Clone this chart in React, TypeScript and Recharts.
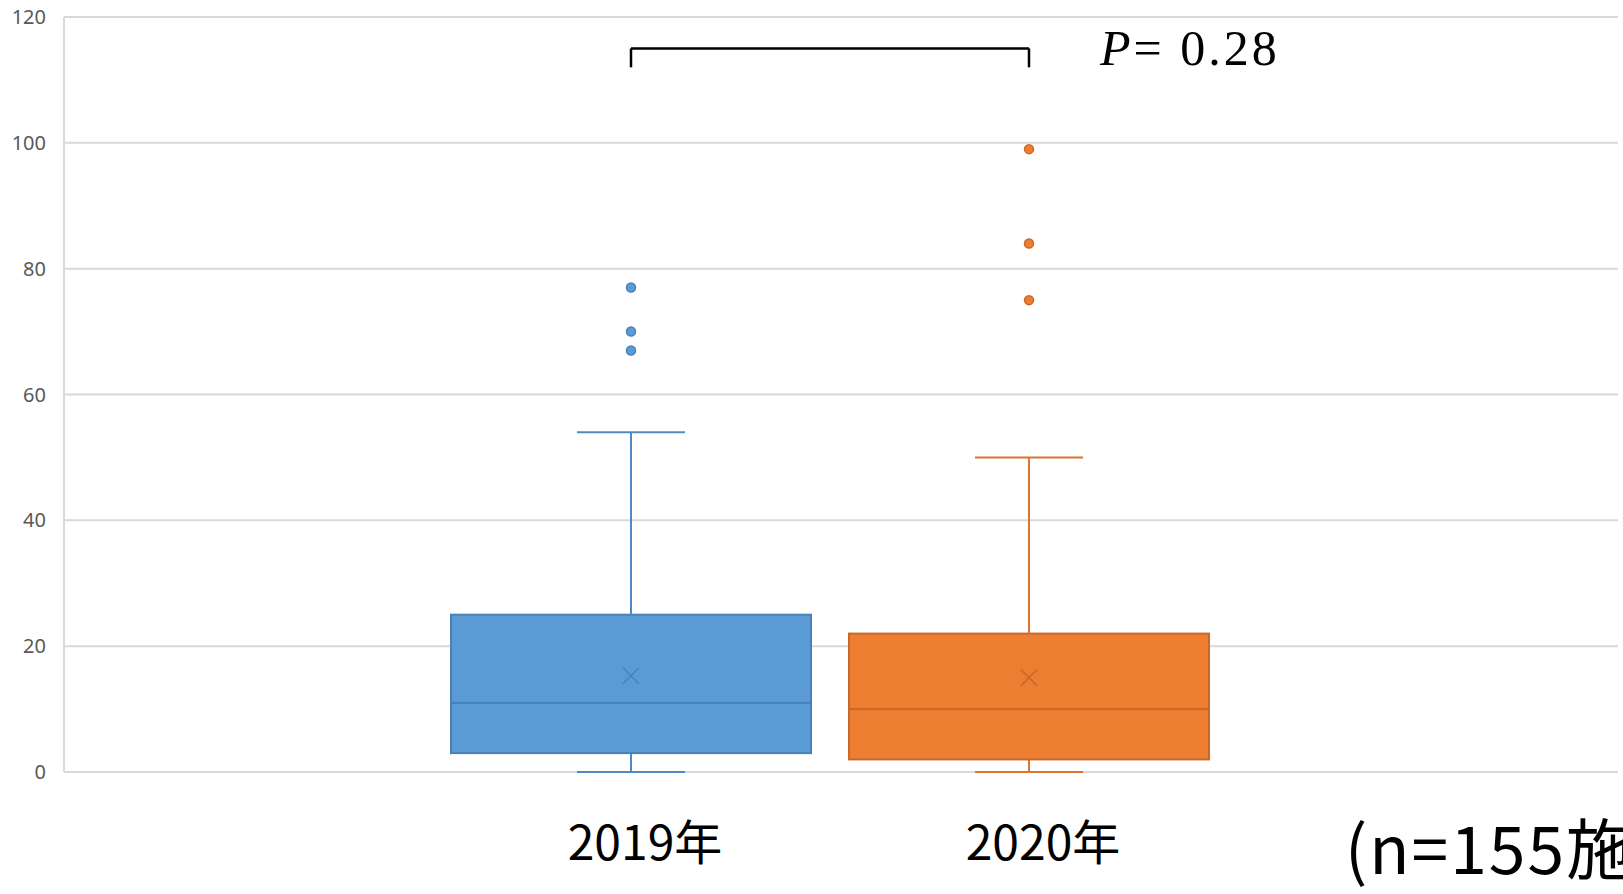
import React from "react";
import {
  ComposedChart,
  Bar,
  Scatter,
  XAxis,
  YAxis,
  CartesianGrid,
  ReferenceLine,
} from "recharts";

const categories = ["2019年", "2020年"];
const minValues = [0, 0];
const q1Values = [3, 2];
const medianValues = [11, 10];
const q3Values = [25, 22];
const maxValues = [54, 50];
const meanValues = [15.3, 15.0];
const outlierValues = [
  [67, 70, 77],
  [75, 84, 99],
];
const yTicks = [0, 20, 40, 60, 80, 100, 120];
const pLabel = "0.28";
const nLabel = "(n=155施設)";
const bracketTop = 115;
const bracketBottom = 112;

const palette: Record<string, { fill: string; stroke: string; line: string }> = {
  "2019年": { fill: "#5B9BD5", stroke: "#4A80B8", line: "#5089C4" },
  "2020年": { fill: "#ED7D31", stroke: "#C8692A", line: "#DB7434" },
};

const data = categories.map((name, i) => ({
  name,
  base: minValues[i],
  lowWhisker: q1Values[i] - minValues[i],
  lowBox: medianValues[i] - q1Values[i],
  highBox: q3Values[i] - medianValues[i],
  highWhisker: maxValues[i] - q3Values[i],
  mean: meanValues[i],
  out1: outlierValues[i][0],
  out2: outlierValues[i][1],
  out3: outlierValues[i][2],
}));

const CAP = 108;

const LowWhisker = (p: any) => {
  const c = palette[p.payload.name];
  const cx = p.x + p.width / 2;
  return (
    <g stroke={c.line} strokeWidth={2}>
      <line x1={cx} x2={cx} y1={p.y} y2={p.y + p.height} />
      <line x1={cx - CAP / 2} x2={cx + CAP / 2} y1={p.y + p.height} y2={p.y + p.height} />
    </g>
  );
};

const HighWhisker = (p: any) => {
  const c = palette[p.payload.name];
  const cx = p.x + p.width / 2;
  return (
    <g stroke={c.line} strokeWidth={2}>
      <line x1={cx} x2={cx} y1={p.y} y2={p.y + p.height} />
      <line x1={cx - CAP / 2} x2={cx + CAP / 2} y1={p.y} y2={p.y} />
    </g>
  );
};

const BoxPart = (p: any) => {
  const c = palette[p.payload.name];
  return (
    <rect
      x={p.x}
      y={p.y}
      width={p.width}
      height={p.height}
      fill={c.fill}
      stroke={c.stroke}
      strokeWidth={2}
    />
  );
};

const MeanMark = (p: any) => {
  const c = palette[p.payload.name];
  const s = 8;
  return (
    <g stroke={c.stroke} strokeWidth={1.5}>
      <line x1={p.cx - s} y1={p.cy - s} x2={p.cx + s} y2={p.cy + s} />
      <line x1={p.cx - s} y1={p.cy + s} x2={p.cx + s} y2={p.cy - s} />
    </g>
  );
};

const OutlierDot = (p: any) => {
  const c = palette[p.payload.name];
  return <circle cx={p.cx} cy={p.cy} r={4.5} fill={c.fill} stroke={c.stroke} strokeWidth={1.5} />;
};

const CategoryTick = (p: any) => (
  <text
    x={p.x + 14}
    y={p.y + 88}
    textAnchor="middle"
    fontSize={48}
    fontFamily="'Noto Sans CJK JP', sans-serif"
    fill="#000"
  >
    {p.payload.value}
  </text>
);

export default function App() {
  return (
    <div style={{ position: "relative", width: 1623, height: 894 }}>
      <style>{`body{margin:0;}`}</style>
      <ComposedChart
        width={1623}
        height={894}
        data={data}
        margin={{ top: 17, right: 5, left: 0, bottom: 0 }}
      >
        <CartesianGrid vertical={false} stroke="#d9d9d9" strokeWidth={2} />
        <XAxis
          dataKey="name"
          height={122}
          axisLine={false}
          tickLine={false}
          tickSize={0}
          tickMargin={0}
          padding={{ left: 368, right: 390 }}
          tick={<CategoryTick />}
        />
        <YAxis
          width={64}
          domain={[0, 120]}
          ticks={yTicks}
          tickLine={false}
          tickMargin={12}
          axisLine={{ stroke: "#d9d9d9", strokeWidth: 2 }}
          tick={{ fontSize: 20, fill: "#595959", fontFamily: "'Noto Sans', sans-serif" }}
        />
        <Bar dataKey="base" stackId="box" barSize={360} fill="none" isAnimationActive={false} />
        <Bar dataKey="lowWhisker" stackId="box" barSize={360} shape={<LowWhisker />} isAnimationActive={false} />
        <Bar dataKey="lowBox" stackId="box" barSize={360} shape={<BoxPart />} isAnimationActive={false} />
        <Bar dataKey="highBox" stackId="box" barSize={360} shape={<BoxPart />} isAnimationActive={false} />
        <Bar dataKey="highWhisker" stackId="box" barSize={360} shape={<HighWhisker />} isAnimationActive={false} />
        <Scatter dataKey="mean" shape={<MeanMark />} isAnimationActive={false} />
        <Scatter dataKey="out1" shape={<OutlierDot />} isAnimationActive={false} />
        <Scatter dataKey="out2" shape={<OutlierDot />} isAnimationActive={false} />
        <Scatter dataKey="out3" shape={<OutlierDot />} isAnimationActive={false} />
        <ReferenceLine
          segment={[{ x: categories[0], y: bracketTop }, { x: categories[1], y: bracketTop }]}
          stroke="#000"
          strokeWidth={2.5}
          ifOverflow="visible"
        />
        <ReferenceLine
          segment={[{ x: categories[0], y: bracketBottom }, { x: categories[0], y: bracketTop }]}
          stroke="#000"
          strokeWidth={2.5}
          ifOverflow="visible"
        />
        <ReferenceLine
          segment={[{ x: categories[1], y: bracketBottom }, { x: categories[1], y: bracketTop }]}
          stroke="#000"
          strokeWidth={2.5}
          ifOverflow="visible"
        />
      </ComposedChart>
      <svg
        width={1623}
        height={894}
        style={{ position: "absolute", left: 0, top: 0, pointerEvents: "none" }}
      >
        <text
          x={1100}
          y={65}
          fontSize={50}
          letterSpacing={3}
          fontFamily="'Liberation Serif', serif"
          fill="#000"
        >
          <tspan fontStyle="italic">P</tspan>
          {"= " + pLabel}
        </text>
        <text
          x={1345}
          y={874}
          fontSize={66}
          letterSpacing={2}
          fontFamily="'Noto Sans CJK JP', sans-serif"
          fill="#000"
        >
          {nLabel}
        </text>
      </svg>
    </div>
  );
}
